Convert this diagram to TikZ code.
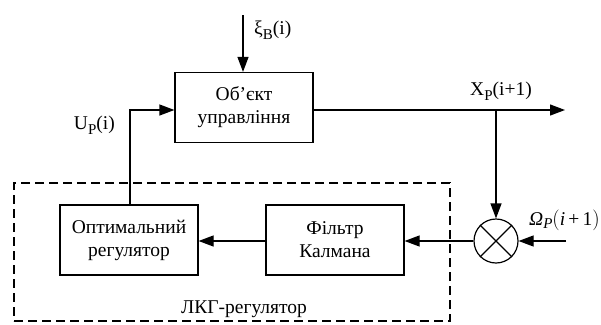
\documentclass[tikz,border=0pt]{standalone}
\usepackage{fontspec}
\setmainfont{Liberation Serif}
\usetikzlibrary{arrows.meta}
\newcommand\mysub[1]{\raisebox{-0.5ex}{\fontsize{15}{15}\selectfont #1}}
\begin{document}
\begin{tikzpicture}[x=1pt,y=-1pt,
  font=\fontsize{19.5}{23}\selectfont,
  blk/.style={draw,line width=1.2pt,minimum width=138pt,minimum height=70pt,align=center,inner sep=0pt},
  conn/.style={line width=1.2pt},
  arr/.style={line width=1.2pt,-{Triangle[length=15pt,width=11pt]}},
  lbl/.style={inner sep=0pt}]
\useasboundingbox (0,0) rectangle (601,324);
% dashed frame
\node[draw,dash pattern=on 9pt off 5pt,line width=1.7pt,minimum width=436pt,minimum height=138pt,inner sep=0pt] (frame) at (232,252) {};
\node[lbl] (lkg) at (244,309) {ЛКГ-регулятор};
% blocks
\node[blk] (obj) at (244,107.5) {Об’єкт\\управління};
\node[blk] (opt) at (129,240) {Оптимальний\\регулятор};
\node[blk] (kal) at (335,240) {Фільтр\\Калмана};
\node[draw,circle,line width=1.2pt,minimum size=44pt,inner sep=0pt] (sum) at (496,241) {};
\draw[conn] (sum.north west) -- (sum.south east);
\draw[conn] (sum.north east) -- (sum.south west);
% coordinates
\coordinate (xiS) at (243,15);
\coordinate (outE) at (565,110);
\coordinate (tap) at (496,110);
\coordinate (corner) at (130,110);
\coordinate (omS) at (566,241);
% connectors
\draw[arr] (xiS) -- (obj.north -| xiS);
\draw[arr] (obj.east |- outE) -- (outE);
\draw[arr] (tap) -- (sum.north);
\draw[arr] (omS) -- (sum.east);
\draw[arr] (sum.west) -- (kal.east |- sum.west);
\draw[arr] (kal.west |- sum.west) -- (opt.east |- sum.west);
\draw[arr] (opt.north -| corner) -- (corner) -- (obj.west |- corner);
% labels
\node[lbl,anchor=west] (xil) at (254,30) {ξ\mysub{B}(i)};
\node[lbl] (xpl) at (501,91) {X\mysub{P}(i+1)};
\node[lbl,anchor=east] (upl) at (115,125) {U\mysub{P}(i)};
\node[lbl,anchor=west] (oml) at (529,220) {\textit{Ω}\raisebox{-0.4ex}{\fontsize{15}{15}\selectfont\itshape P}$\bigl($\textit{i}\,+\,1$\bigr)$};
\end{tikzpicture}
\end{document}
